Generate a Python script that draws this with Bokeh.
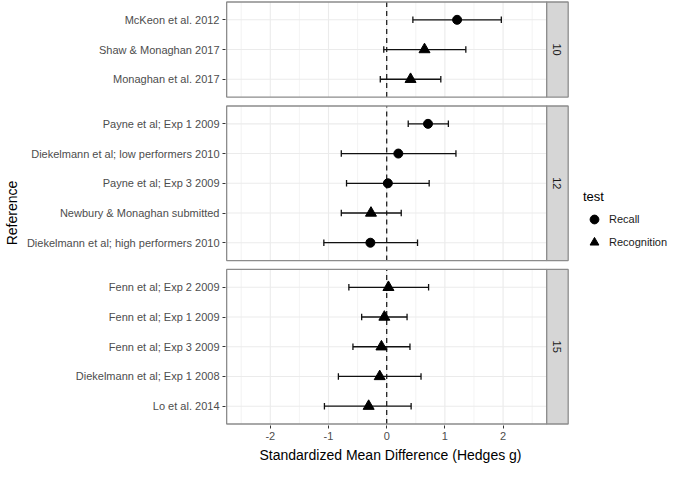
import math
from bokeh.plotting import figure
from bokeh.models import ColumnDataSource, Range1d, FixedTicker, Legend, LegendItem, Title
from bokeh.embed import file_html
from bokeh.resources import INLINE
from bokeh.core.properties import value

# ---------------- data ----------------
studies = [
    "McKeon et al. 2012", "Shaw & Monaghan 2017", "Monaghan et al. 2017",
    "Payne et al; Exp 1 2009", "Diekelmann et al; low performers 2010", "Payne et al; Exp 3 2009",
    "Newbury & Monaghan submitted", "Diekelmann et al; high performers 2010",
    "Fenn et al; Exp 2 2009", "Fenn et al; Exp 1 2009", "Fenn et al; Exp 3 2009",
    "Diekelmann et al; Exp 1 2008", "Lo et al. 2014",
]
panels = [10, 10, 10, 12, 12, 12, 12, 12, 15, 15, 15, 15, 15]
tests = ["Recall", "Recognition", "Recognition",
         "Recall", "Recall", "Recall", "Recognition", "Recall",
         "Recognition", "Recognition", "Recognition", "Recognition", "Recognition"]
g = [1.21, 0.65, 0.41, 0.71, 0.20, 0.02, -0.27, -0.28, 0.03, -0.04, -0.09, -0.12, -0.31]
lower = [0.45, -0.05, -0.11, 0.37, -0.78, -0.69, -0.78, -1.08, -0.65, -0.43, -0.58, -0.83, -1.07]
upper = [1.97, 1.36, 0.93, 1.06, 1.19, 0.73, 0.25, 0.53, 0.72, 0.35, 0.40, 0.59, 0.42]

panel_order = [10, 12, 15]
x_ticks = [-2, -1, 0, 1, 2]
x_tick_labels = ["-2", "-1", "0", "1", "2"]
x_minor = [-2.5, -1.5, -0.5, 0.5, 1.5, 2.5]
x_lim = (-2.75, 2.75)
test_levels = ["Recall", "Recognition"]
test_markers = ["circle", "triangle"]
x_title = "Standardized Mean Difference (Hedges g)"
y_title = "Reference"

# ---------------- layout (units) ----------------
ROW, PAD, GAP = 10, 6, 3
STRIP_W = 0.369
X_END = 4.86          # frame extends to the right to hold the legend
BORDER = "#8C8C8C"
GRID = "#EBEBEB"

row_y = [0] * len(studies)
panel_box = {}
cursor = 0
for pn in reversed(panel_order):
    idx = [i for i, p in enumerate(panels) if p == pn]
    n = len(idx)
    bottom = cursor
    top = cursor + (n - 1) * ROW + 2 * PAD
    for k, i in enumerate(idx):
        row_y[i] = top - PAD - k * ROW
    panel_box[pn] = (bottom, top)
    cursor = top + GAP
y_top = cursor - GAP

p = figure(width=669, height=464, output_backend="svg", toolbar_location=None,
           x_range=Range1d(x_lim[0] - 0.02, X_END),
           y_range=Range1d(-0.5, y_top + 0.5),
           min_border_top=0, min_border_right=0, min_border_left=2, min_border_bottom=0)
p.outline_line_color = None
p.grid.visible = False
p.background_fill_color = "white"

# grid lines and dashed reference line per panel
for pn in panel_order:
    b, t = panel_box[pn]
    p.segment(x0=x_minor, x1=x_minor, y0=[b] * len(x_minor), y1=[t] * len(x_minor),
              line_color=GRID, line_width=0.6)
    p.segment(x0=x_ticks, x1=x_ticks, y0=[b] * len(x_ticks), y1=[t] * len(x_ticks),
              line_color=GRID, line_width=1.1)
    ys = [row_y[i] for i in range(len(studies)) if panels[i] == pn]
    p.segment(x0=[x_lim[0]] * len(ys), x1=[x_lim[1]] * len(ys), y0=ys, y1=ys,
              line_color=GRID, line_width=1.1)
    p.segment(x0=[0], x1=[0], y0=[b], y1=[t], line_color="#222222",
              line_width=1.3, line_dash="5 4")

# error bars
src = ColumnDataSource(dict(y=row_y, g=g, lo=lower, hi=upper,
                            ylo=[v - 1.1 for v in row_y], yhi=[v + 1.1 for v in row_y],
                            test=tests))
p.segment(x0="lo", x1="hi", y0="y", y1="y", source=src, line_color="#111111", line_width=1.3)
p.segment(x0="lo", x1="lo", y0="ylo", y1="yhi", source=src, line_color="#111111", line_width=1.3)
p.segment(x0="hi", x1="hi", y0="ylo", y1="yhi", source=src, line_color="#111111", line_width=1.3)

# points
items = []
for lvl, mk in zip(test_levels, test_markers):
    idx = [i for i, t in enumerate(tests) if t == lvl]
    s = ColumnDataSource(dict(x=[g[i] for i in idx], y=[row_y[i] for i in idx]))
    r = p.scatter(x="x", y="y", source=s, marker=mk, size=9 if mk == "circle" else 11,
                  fill_color="black", line_color="black")
    items.append(LegendItem(label=lvl, renderers=[r]))

# panel borders and strips
for pn in panel_order:
    b, t = panel_box[pn]
    p.quad(left=[x_lim[0]], right=[x_lim[1]], bottom=[b], top=[t],
           fill_color=None, line_color=BORDER, line_width=1.3)
    p.quad(left=[x_lim[1]], right=[x_lim[1] + STRIP_W], bottom=[b], top=[t],
           fill_color="#D6D6D6", line_color=BORDER, line_width=1.3)
    p.text(x=[x_lim[1] + STRIP_W / 2], y=[(b + t) / 2], text=[str(pn)],
           angle=-math.pi / 2, text_align="center", text_baseline="middle",
           text_font=value("Liberation Sans"), text_font_size="11px", text_color="#1A1A1A")

# axes
for ax in (p.xaxis, p.yaxis):
    ax.axis_line_color = None
    ax.major_tick_line_color = "#333333"
    ax.major_tick_out = 3
    ax.major_tick_in = 0
    ax.minor_tick_line_color = None
    ax.major_label_text_color = "#4D4D4D"
    ax.major_label_text_font = "Liberation Sans"
    ax.major_label_text_font_size = "11px"
    ax.major_label_standoff = 3
    ax.axis_label_text_font = "Liberation Sans"
    ax.axis_label_text_font_size = "14px"
    ax.axis_label_text_font_style = "normal"
    ax.axis_label_text_color = "black"
    ax.axis_label_standoff = 4

p.xaxis.ticker = FixedTicker(ticks=x_ticks)
p.xaxis.major_label_overrides = dict(zip(x_ticks, x_tick_labels))
p.yaxis.ticker = FixedTicker(ticks=row_y)
p.yaxis.major_label_overrides = {row_y[i]: studies[i] for i in range(len(studies))}
p.yaxis.axis_label = y_title

# x-axis title, placed so that it is centred on the panels rather than the whole frame
p.add_layout(Title(text=x_title, align="left", offset=34, standoff=4,
                   text_font="Liberation Sans", text_font_size="14px",
                   text_font_style="normal", text_color="black"), "below")

legend = Legend(items=items, title="test", location=(358, 172),
                border_line_color=None, background_fill_alpha=0,
                label_text_font="Liberation Sans", label_text_font_size="11px",
                label_text_color="#1A1A1A",
                title_text_font="Liberation Sans", title_text_font_size="13px",
                title_text_font_style="normal", title_text_color="black",
                title_standoff=4, glyph_width=22, glyph_height=22,
                label_standoff=4, spacing=1, padding=2, margin=0)
p.add_layout(legend)

open("out.html", "w").write(file_html(p, INLINE))
